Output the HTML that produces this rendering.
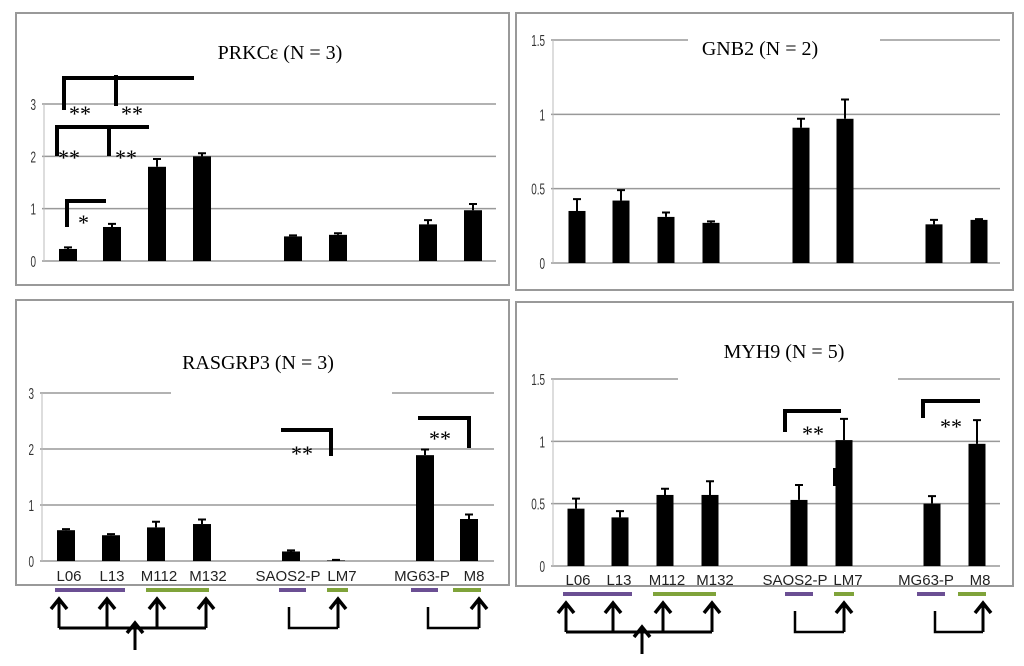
<!DOCTYPE html>
<html><head><meta charset="utf-8"><style>
html,body{margin:0;padding:0;background:#fff;}
svg{display:block;font-family:"Liberation Sans",sans-serif;}
.t{font-family:"Liberation Serif",serif;font-size:20px;}
</style></head><body>
<svg id="s" width="1024" height="666" viewBox="0 0 1024 666"></svg>
<script>
const categories = ["L06","L13","M112","M132","SAOS2-P","LM7","MG63-P","M8"];
const prkceValues = [0.23,0.65,1.8,2.0,0.47,0.5,0.7,0.97];
const prkceErrors = [0.03,0.06,0.15,0.06,0.02,0.03,0.08,0.12];
const prkceTicks = ["0","1","2","3"];
const gnb2Values = [0.35,0.42,0.31,0.27,0.91,0.97,0.26,0.29];
const gnb2Errors = [0.08,0.07,0.03,0.01,0.06,0.13,0.03,0.005];
const gnb2Ticks = ["0","0.5","1","1.5"];
const rasgrp3Values = [0.55,0.46,0.6,0.66,0.17,0.01,1.89,0.75];
const rasgrp3Errors = [0.02,0.02,0.1,0.08,0.02,0.01,0.1,0.08];
const rasgrp3Ticks = ["0","1","2","3"];
const myh9Values = [0.46,0.39,0.57,0.57,0.53,1.01,0.5,0.98];
const myh9Errors = [0.08,0.05,0.05,0.11,0.12,0.17,0.06,0.19];
const myh9Ticks = ["0","0.5","1","1.5"];

const NS="http://www.w3.org/2000/svg";
const svg=document.getElementById('s');
function mk(tag,attrs,parent,text){const e=document.createElementNS(NS,tag);for(const k in attrs)e.setAttribute(k,attrs[k]);if(text!==undefined)e.textContent=text;(parent||svg).appendChild(e);return e;}

const panels=[
 {name:"prkce",title:"PRKCε (N = 3)",tx:280,ty:59,frame:[16,13,493,272],y0:261,yTop:104,max:3,ax:44,gx2:496,centers:[68,112,157,202,293,338,428,473],bw:18,vals:prkceValues,errs:prkceErrors,ticks:prkceTicks,labels:false},
 {name:"gnb2",title:"GNB2 (N = 2)",tx:760,ty:55,frame:[516,13,497,277],y0:263,yTop:40,max:1.5,ax:553,gx2:1000,centers:[577,621,666,711,801,845,934,979],bw:17,vals:gnb2Values,errs:gnb2Errors,ticks:gnb2Ticks,labels:false,topGap:[688,880]},
 {name:"rasgrp3",title:"RASGRP3 (N = 3)",tx:258,ty:369,frame:[16,300,493,285],y0:561,yTop:393,max:3,ax:42,gx2:494,centers:[66,111,156,202,291,336,425,469],bw:18,vals:rasgrp3Values,errs:rasgrp3Errors,ticks:rasgrp3Ticks,labels:[69,112,159,208,288,342,422,474],ly:581,topGap:[171,392],bars:{y:590,seg:[[55,125,'p'],[146,209,'g'],[279,306,'p'],[327,348,'g'],[411,438,'p'],[453,481,'g']]},arr:{xs:[59,107,157,206],mid:135,hy:628,b1:[289,338],b2:[428,479]}},
 {name:"myh9",title:"MYH9 (N = 5)",tx:784,ty:358,frame:[516,302,497,284],y0:566,yTop:379,max:1.5,ax:553,gx2:1000,centers:[576,620,665,710,799,844,932,977],bw:17,vals:myh9Values,errs:myh9Errors,ticks:myh9Ticks,labels:[578,619,667,715,795,848,926,980],ly:585,topGap:[678,898],bars:{y:594,seg:[[563,632,'p'],[653,716,'g'],[785,813,'p'],[834,854,'g'],[917,945,'p'],[958,986,'g']]},arr:{xs:[566,613,663,712],mid:642,hy:632,b1:[795,844],b2:[935,983]}}
];

function arrowUp(g,x,y1,y2){
 mk('line',{x1:x,y1:y1,x2:x,y2:y2,stroke:'#000','stroke-width':3},g);
 mk('polyline',{points:`${x-8},${y2+11} ${x},${y2+1} ${x+8},${y2+11}`,fill:'none',stroke:'#000','stroke-width':3.5},g);
}

panels.forEach(p=>{
 const g=mk('g',{});  
 const f=p.frame;
 const fr=mk('rect',{x:f[0],y:f[1],width:f[2],height:f[3],fill:'none',stroke:'#999','stroke-width':2},g);
  
 const yS=v=>p.y0-(v/p.max)*(p.y0-p.yTop);
 p.ticks.forEach((t,i)=>{
  const v=parseFloat(t), y=yS(v);
  if(i===p.ticks.length-1&&p.topGap){
   mk('line',{x1:p.ax-2,y1:y,x2:p.topGap[0],y2:y,stroke:'#999','stroke-width':1.5},g);
   mk('line',{x1:p.topGap[1],y1:y,x2:p.gx2,y2:y,stroke:'#999','stroke-width':1.5},g);
  } else mk('line',{x1:p.ax-2,y1:y,x2:p.gx2,y2:y,stroke:'#999','stroke-width':1.5},g);
  const tl=mk('text',{x:p.ax-8,y:y+6,'text-anchor':'end','font-size':16,fill:'#333',transform:`translate(${p.ax-8},${y}) scale(0.62,1) translate(${-(p.ax-8)},${-y})`},g,t);
   
 });
 mk('line',{x1:p.ax,y1:p.yTop,x2:p.ax,y2:p.y0,stroke:'#bbb','stroke-width':1},g);
 const tt=mk('text',{x:p.tx,y:p.ty,'text-anchor':'middle',class:'t'},g,p.title);
  
 p.vals.forEach((v,i)=>{
  const cx=p.centers[i], y=yS(v), ye=yS(v+p.errs[i]);
  const b=mk('rect',{x:cx-p.bw/2,y:y,width:p.bw,height:p.y0-y,fill:'#000'},g);
   
  const e=mk('path',{d:`M${cx},${y} V${ye} M${cx-4},${ye} H${cx+4}`,stroke:'#000','stroke-width':2,fill:'none'},g);
   
 });
 if(p.labels){
  p.labels.forEach((x,i)=>{
   const l=mk('text',{x:x,y:p.ly,'text-anchor':'middle','font-size':15,fill:'#222'},g,categories[i]);
    
  });
  p.bars.seg.forEach(s=>{
   const r=mk('rect',{x:s[0],y:p.bars.y-2,width:s[1]-s[0],height:4,fill:s[2]==='p'?'#6b4f93':'#7fa33a'},g);
    
  });
  const a=p.arr, ag=mk('g',{},g);
   
  a.xs.forEach(x=>arrowUp(ag,x,a.hy,a.hy-30));
  mk('line',{x1:a.xs[0],y1:a.hy,x2:a.xs[3],y2:a.hy,stroke:'#000','stroke-width':3},ag);
  arrowUp(ag,a.mid,a.hy+22,a.hy-6);
  [a.b1,a.b2].forEach(b=>{
   mk('polyline',{points:`${b[0]},${a.hy-21} ${b[0]},${a.hy} ${b[1]},${a.hy}`,fill:'none',stroke:'#000','stroke-width':2.5},ag);
   arrowUp(ag,b[1],a.hy,a.hy-30);
  });
 }
});

function sig(d,tx,ty,txt){
 if(d){
  const pth=mk('path',{d:d,stroke:'#000','stroke-width':4,fill:'none'});
   
 }
 const t=mk('text',{x:tx,y:ty,'font-family':'Liberation Serif,serif','font-size':22},undefined,txt);
  
}
sig('M64,110 V78 H194 M116,75 V106',69,121,'**');
sig('',121,121,'**');
sig('M57,156 V127 H149 M109,127 V156',58,165,'**');
sig('',115,165,'**');
sig('M67,227 V201 H106',78,230,'*');
sig('M281,430 H331 V456',291,461,'**');
sig('M418,418 H469 V448',429,446,'**');
sig('M785,432 V411 H841',802,441,'**');
sig('M923,418 V401 H980',940,434,'**');
const stub=mk('rect',{x:833,y:468,width:5,height:18,fill:'#000'});
 
</script>
</body></html>
